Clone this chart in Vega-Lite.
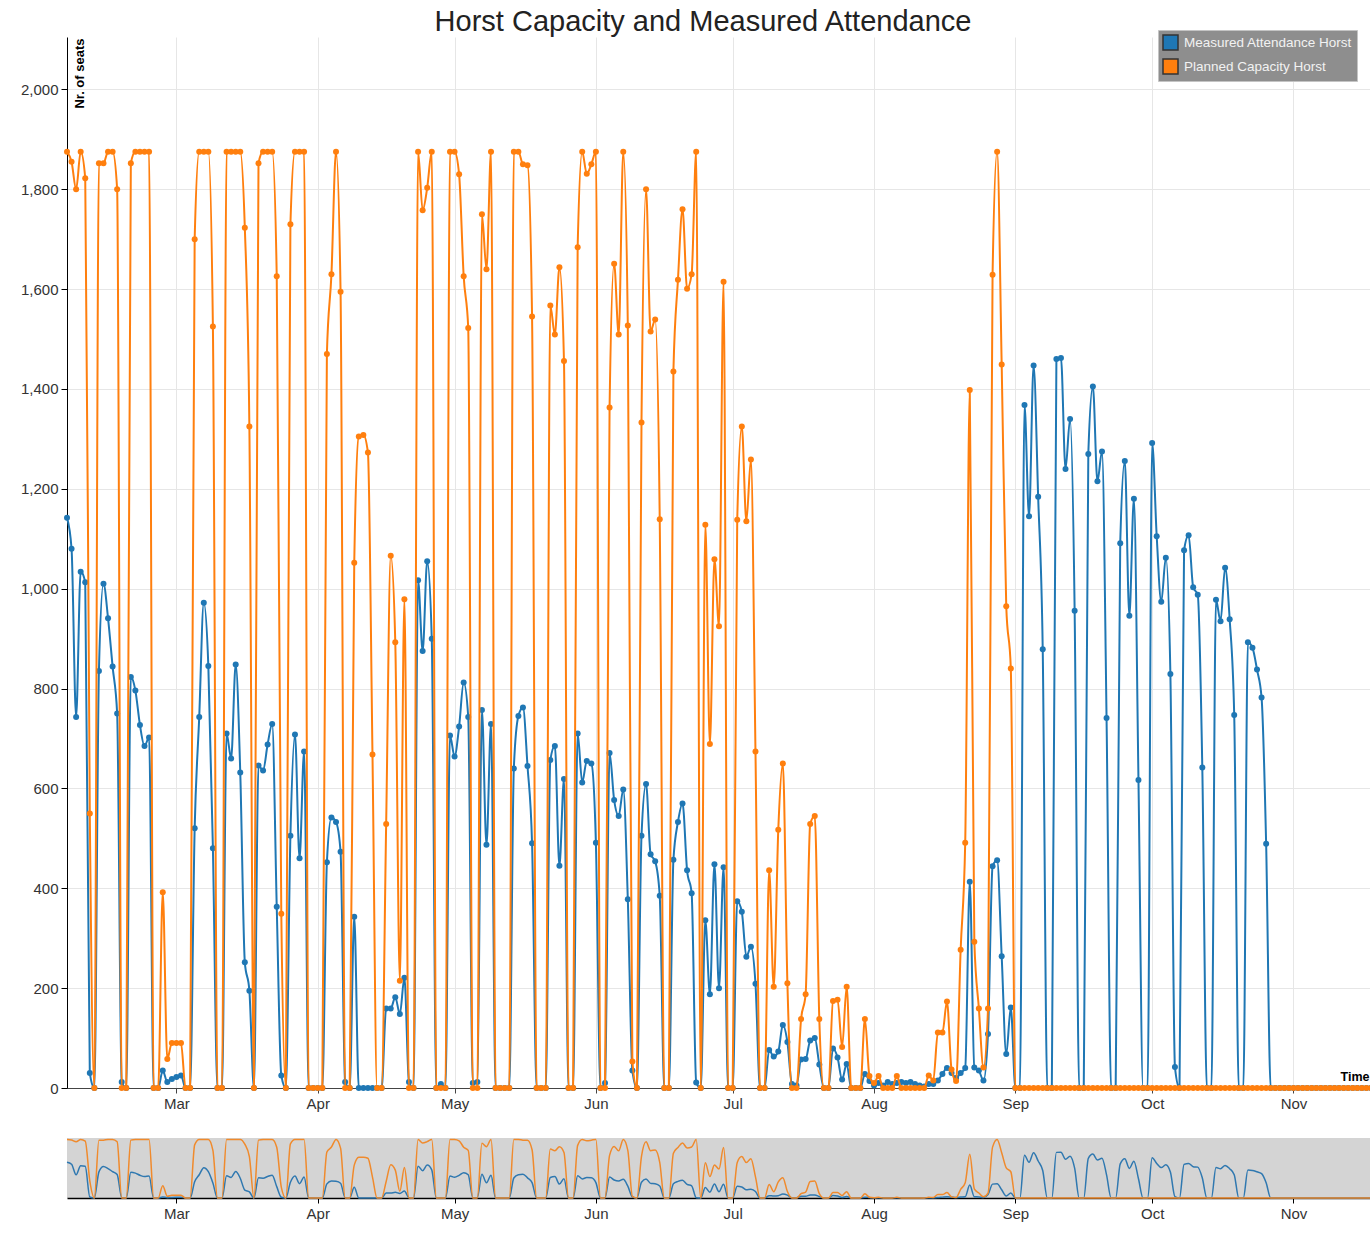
{
"$schema": "https://vega.github.io/schema/vega-lite/v6.json",
"padding": {"left": 20, "top": 7, "right": 0, "bottom": 5},
"background": "white",
"config": {"font": "Liberation Sans", "view": {"stroke": null}},
"datasets": {
"cap": [
{"t":"2018-02-05","v":1875},{"t":"2018-02-06","v":1855},{"t":"2018-02-07","v":1800},{"t":"2018-02-08","v":1875},{"t":"2018-02-09","v":1822},{"t":"2018-02-10","v":550},{"t":"2018-02-11","v":0},{"t":"2018-02-12","v":1852},{"t":"2018-02-13","v":1852},{"t":"2018-02-14","v":1875},{"t":"2018-02-15","v":1875},{"t":"2018-02-16","v":1800},{"t":"2018-02-17","v":0},{"t":"2018-02-18","v":0},{"t":"2018-02-19","v":1852},{"t":"2018-02-20","v":1875},{"t":"2018-02-21","v":1875},{"t":"2018-02-22","v":1875},{"t":"2018-02-23","v":1875},{"t":"2018-02-24","v":0},{"t":"2018-02-25","v":0},{"t":"2018-02-26","v":392},{"t":"2018-02-27","v":58},{"t":"2018-02-28","v":90},
{"t":"2018-03-01","v":90},{"t":"2018-03-02","v":90},{"t":"2018-03-03","v":0},{"t":"2018-03-04","v":0},{"t":"2018-03-05","v":1700},{"t":"2018-03-06","v":1875},{"t":"2018-03-07","v":1875},{"t":"2018-03-08","v":1875},{"t":"2018-03-09","v":1525},{"t":"2018-03-10","v":0},{"t":"2018-03-11","v":0},{"t":"2018-03-12","v":1875},{"t":"2018-03-13","v":1875},{"t":"2018-03-14","v":1875},{"t":"2018-03-15","v":1875},{"t":"2018-03-16","v":1723},{"t":"2018-03-17","v":1325},{"t":"2018-03-18","v":0},{"t":"2018-03-19","v":1852},{"t":"2018-03-20","v":1875},{"t":"2018-03-21","v":1875},{"t":"2018-03-22","v":1875},{"t":"2018-03-23","v":1626},{"t":"2018-03-24","v":349},{"t":"2018-03-25","v":0},{"t":"2018-03-26","v":1730},{"t":"2018-03-27","v":1875},{"t":"2018-03-28","v":1875},{"t":"2018-03-29","v":1875},{"t":"2018-03-30","v":0},{"t":"2018-03-31","v":0},
{"t":"2018-04-01","v":0},{"t":"2018-04-02","v":0},{"t":"2018-04-03","v":1470},{"t":"2018-04-04","v":1630},{"t":"2018-04-05","v":1875},{"t":"2018-04-06","v":1595},{"t":"2018-04-07","v":0},{"t":"2018-04-08","v":0},{"t":"2018-04-09","v":1052},{"t":"2018-04-10","v":1305},{"t":"2018-04-11","v":1308},{"t":"2018-04-12","v":1273},{"t":"2018-04-13","v":668},{"t":"2018-04-14","v":0},{"t":"2018-04-15","v":0},{"t":"2018-04-16","v":529},{"t":"2018-04-17","v":1066},{"t":"2018-04-18","v":893},{"t":"2018-04-19","v":215},{"t":"2018-04-20","v":979},{"t":"2018-04-21","v":0},{"t":"2018-04-22","v":0},{"t":"2018-04-23","v":1875},{"t":"2018-04-24","v":1758},{"t":"2018-04-25","v":1803},{"t":"2018-04-26","v":1875},{"t":"2018-04-27","v":0},{"t":"2018-04-28","v":0},{"t":"2018-04-29","v":0},{"t":"2018-04-30","v":1875},
{"t":"2018-05-01","v":1875},{"t":"2018-05-02","v":1830},{"t":"2018-05-03","v":1626},{"t":"2018-05-04","v":1522},{"t":"2018-05-05","v":0},{"t":"2018-05-06","v":0},{"t":"2018-05-07","v":1750},{"t":"2018-05-08","v":1640},{"t":"2018-05-09","v":1875},{"t":"2018-05-10","v":0},{"t":"2018-05-11","v":0},{"t":"2018-05-12","v":0},{"t":"2018-05-13","v":0},{"t":"2018-05-14","v":1875},{"t":"2018-05-15","v":1875},{"t":"2018-05-16","v":1850},{"t":"2018-05-17","v":1848},{"t":"2018-05-18","v":1545},{"t":"2018-05-19","v":0},{"t":"2018-05-20","v":0},{"t":"2018-05-21","v":0},{"t":"2018-05-22","v":1567},{"t":"2018-05-23","v":1509},{"t":"2018-05-24","v":1644},{"t":"2018-05-25","v":1456},{"t":"2018-05-26","v":0},{"t":"2018-05-27","v":0},{"t":"2018-05-28","v":1684},{"t":"2018-05-29","v":1875},{"t":"2018-05-30","v":1831},{"t":"2018-05-31","v":1850},
{"t":"2018-06-01","v":1875},{"t":"2018-06-02","v":0},{"t":"2018-06-03","v":0},{"t":"2018-06-04","v":1363},{"t":"2018-06-05","v":1651},{"t":"2018-06-06","v":1509},{"t":"2018-06-07","v":1875},{"t":"2018-06-08","v":1527},{"t":"2018-06-09","v":53},{"t":"2018-06-10","v":0},{"t":"2018-06-11","v":1333},{"t":"2018-06-12","v":1800},{"t":"2018-06-13","v":1515},{"t":"2018-06-14","v":1539},{"t":"2018-06-15","v":1139},{"t":"2018-06-16","v":0},{"t":"2018-06-17","v":0},{"t":"2018-06-18","v":1435},{"t":"2018-06-19","v":1619},{"t":"2018-06-20","v":1760},{"t":"2018-06-21","v":1601},{"t":"2018-06-22","v":1630},{"t":"2018-06-23","v":1875},{"t":"2018-06-24","v":0},{"t":"2018-06-25","v":1128},{"t":"2018-06-26","v":689},{"t":"2018-06-27","v":1059},{"t":"2018-06-28","v":925},{"t":"2018-06-29","v":1615},{"t":"2018-06-30","v":0},
{"t":"2018-07-01","v":0},{"t":"2018-07-02","v":1138},{"t":"2018-07-03","v":1325},{"t":"2018-07-04","v":1135},{"t":"2018-07-05","v":1259},{"t":"2018-07-06","v":674},{"t":"2018-07-07","v":0},{"t":"2018-07-08","v":0},{"t":"2018-07-09","v":436},{"t":"2018-07-10","v":203},{"t":"2018-07-11","v":517},{"t":"2018-07-12","v":650},{"t":"2018-07-13","v":210},{"t":"2018-07-14","v":0},{"t":"2018-07-15","v":0},{"t":"2018-07-16","v":138},{"t":"2018-07-17","v":188},{"t":"2018-07-18","v":529},{"t":"2018-07-19","v":545},{"t":"2018-07-20","v":138},{"t":"2018-07-21","v":0},{"t":"2018-07-22","v":0},{"t":"2018-07-23","v":174},{"t":"2018-07-24","v":177},{"t":"2018-07-25","v":82},{"t":"2018-07-26","v":203},{"t":"2018-07-27","v":0},{"t":"2018-07-28","v":0},{"t":"2018-07-29","v":0},{"t":"2018-07-30","v":138},{"t":"2018-07-31","v":24},
{"t":"2018-08-01","v":10},{"t":"2018-08-02","v":24},{"t":"2018-08-03","v":0},{"t":"2018-08-04","v":0},{"t":"2018-08-05","v":0},{"t":"2018-08-06","v":24},{"t":"2018-08-07","v":0},{"t":"2018-08-08","v":0},{"t":"2018-08-09","v":0},{"t":"2018-08-10","v":0},{"t":"2018-08-11","v":0},{"t":"2018-08-12","v":0},{"t":"2018-08-13","v":25},{"t":"2018-08-14","v":15},{"t":"2018-08-15","v":111},{"t":"2018-08-16","v":111},{"t":"2018-08-17","v":173},{"t":"2018-08-18","v":37},{"t":"2018-08-19","v":14},{"t":"2018-08-20","v":277},{"t":"2018-08-21","v":491},{"t":"2018-08-22","v":1398},{"t":"2018-08-23","v":293},{"t":"2018-08-24","v":159},{"t":"2018-08-25","v":41},{"t":"2018-08-26","v":159},{"t":"2018-08-27","v":1629},{"t":"2018-08-28","v":1875},{"t":"2018-08-29","v":1449},{"t":"2018-08-30","v":965},{"t":"2018-08-31","v":840},
{"t":"2018-09-01","v":0},{"t":"2018-09-02","v":0},{"t":"2018-09-03","v":0},{"t":"2018-09-04","v":0},{"t":"2018-09-05","v":0},{"t":"2018-09-06","v":0},{"t":"2018-09-07","v":0},{"t":"2018-09-08","v":0},{"t":"2018-09-09","v":0},{"t":"2018-09-10","v":0},{"t":"2018-09-11","v":0},{"t":"2018-09-12","v":0},{"t":"2018-09-13","v":0},{"t":"2018-09-14","v":0},{"t":"2018-09-15","v":0},{"t":"2018-09-16","v":0},{"t":"2018-09-17","v":0},{"t":"2018-09-18","v":0},{"t":"2018-09-19","v":0},{"t":"2018-09-20","v":0},{"t":"2018-09-21","v":0},{"t":"2018-09-22","v":0},{"t":"2018-09-23","v":0},{"t":"2018-09-24","v":0},{"t":"2018-09-25","v":0},{"t":"2018-09-26","v":0},{"t":"2018-09-27","v":0},{"t":"2018-09-28","v":0},{"t":"2018-09-29","v":0},{"t":"2018-09-30","v":0},
{"t":"2018-10-01","v":0},{"t":"2018-10-02","v":0},{"t":"2018-10-03","v":0},{"t":"2018-10-04","v":0},{"t":"2018-10-05","v":0},{"t":"2018-10-06","v":0},{"t":"2018-10-07","v":0},{"t":"2018-10-08","v":0},{"t":"2018-10-09","v":0},{"t":"2018-10-10","v":0},{"t":"2018-10-11","v":0},{"t":"2018-10-12","v":0},{"t":"2018-10-13","v":0},{"t":"2018-10-14","v":0},{"t":"2018-10-15","v":0},{"t":"2018-10-16","v":0},{"t":"2018-10-17","v":0},{"t":"2018-10-18","v":0},{"t":"2018-10-19","v":0},{"t":"2018-10-20","v":0},{"t":"2018-10-21","v":0},{"t":"2018-10-22","v":0},{"t":"2018-10-23","v":0},{"t":"2018-10-24","v":0},{"t":"2018-10-25","v":0},{"t":"2018-10-26","v":0},{"t":"2018-10-27","v":0},{"t":"2018-10-28","v":0},{"t":"2018-10-29","v":0},{"t":"2018-10-30","v":0},{"t":"2018-10-31","v":0},
{"t":"2018-11-01","v":0},{"t":"2018-11-02","v":0},{"t":"2018-11-03","v":0},{"t":"2018-11-04","v":0},{"t":"2018-11-05","v":0},{"t":"2018-11-06","v":0},{"t":"2018-11-07","v":0},{"t":"2018-11-08","v":0},{"t":"2018-11-09","v":0},{"t":"2018-11-10","v":0},{"t":"2018-11-11","v":0},{"t":"2018-11-12","v":0},{"t":"2018-11-13","v":0},{"t":"2018-11-14","v":0},{"t":"2018-11-15","v":0},{"t":"2018-11-16","v":0},{"t":"2018-11-17","v":0},{"t":"2018-11-18","v":0}
],
"att": [
{"t":"2018-02-05","v":1142},{"t":"2018-02-06","v":1080},{"t":"2018-02-07","v":743},{"t":"2018-02-08","v":1034},{"t":"2018-02-09","v":1013},{"t":"2018-02-10","v":30},{"t":"2018-02-11","v":0},{"t":"2018-02-12","v":835},{"t":"2018-02-13","v":1010},{"t":"2018-02-14","v":941},{"t":"2018-02-15","v":844},{"t":"2018-02-16","v":750},{"t":"2018-02-17","v":12},{"t":"2018-02-18","v":0},{"t":"2018-02-19","v":823},{"t":"2018-02-20","v":796},{"t":"2018-02-21","v":727},{"t":"2018-02-22","v":685},{"t":"2018-02-23","v":702},{"t":"2018-02-24","v":0},{"t":"2018-02-25","v":0},{"t":"2018-02-26","v":35},{"t":"2018-02-27","v":12},{"t":"2018-02-28","v":18},
{"t":"2018-03-01","v":22},{"t":"2018-03-02","v":25},{"t":"2018-03-03","v":0},{"t":"2018-03-04","v":0},{"t":"2018-03-05","v":520},{"t":"2018-03-06","v":743},{"t":"2018-03-07","v":972},{"t":"2018-03-08","v":845},{"t":"2018-03-09","v":480},{"t":"2018-03-10","v":0},{"t":"2018-03-11","v":0},{"t":"2018-03-12","v":710},{"t":"2018-03-13","v":660},{"t":"2018-03-14","v":848},{"t":"2018-03-15","v":632},{"t":"2018-03-16","v":252},{"t":"2018-03-17","v":195},{"t":"2018-03-18","v":0},{"t":"2018-03-19","v":646},{"t":"2018-03-20","v":636},{"t":"2018-03-21","v":688},{"t":"2018-03-22","v":729},{"t":"2018-03-23","v":363},{"t":"2018-03-24","v":25},{"t":"2018-03-25","v":0},{"t":"2018-03-26","v":505},{"t":"2018-03-27","v":708},{"t":"2018-03-28","v":460},{"t":"2018-03-29","v":674},{"t":"2018-03-30","v":0},{"t":"2018-03-31","v":0},
{"t":"2018-04-01","v":0},{"t":"2018-04-02","v":0},{"t":"2018-04-03","v":452},{"t":"2018-04-04","v":542},{"t":"2018-04-05","v":533},{"t":"2018-04-06","v":473},{"t":"2018-04-07","v":12},{"t":"2018-04-08","v":0},{"t":"2018-04-09","v":343},{"t":"2018-04-10","v":0},{"t":"2018-04-11","v":0},{"t":"2018-04-12","v":0},{"t":"2018-04-13","v":0},{"t":"2018-04-14","v":0},{"t":"2018-04-15","v":0},{"t":"2018-04-16","v":159},{"t":"2018-04-17","v":159},{"t":"2018-04-18","v":182},{"t":"2018-04-19","v":148},{"t":"2018-04-20","v":221},{"t":"2018-04-21","v":12},{"t":"2018-04-22","v":0},{"t":"2018-04-23","v":1017},{"t":"2018-04-24","v":875},{"t":"2018-04-25","v":1055},{"t":"2018-04-26","v":900},{"t":"2018-04-27","v":0},{"t":"2018-04-28","v":8},{"t":"2018-04-29","v":0},{"t":"2018-04-30","v":706},
{"t":"2018-05-01","v":664},{"t":"2018-05-02","v":724},{"t":"2018-05-03","v":812},{"t":"2018-05-04","v":743},{"t":"2018-05-05","v":10},{"t":"2018-05-06","v":12},{"t":"2018-05-07","v":757},{"t":"2018-05-08","v":487},{"t":"2018-05-09","v":729},{"t":"2018-05-10","v":0},{"t":"2018-05-11","v":0},{"t":"2018-05-12","v":0},{"t":"2018-05-13","v":0},{"t":"2018-05-14","v":640},{"t":"2018-05-15","v":745},{"t":"2018-05-16","v":762},{"t":"2018-05-17","v":645},{"t":"2018-05-18","v":490},{"t":"2018-05-19","v":0},{"t":"2018-05-20","v":0},{"t":"2018-05-21","v":0},{"t":"2018-05-22","v":657},{"t":"2018-05-23","v":685},{"t":"2018-05-24","v":445},{"t":"2018-05-25","v":619},{"t":"2018-05-26","v":0},{"t":"2018-05-27","v":0},{"t":"2018-05-28","v":710},{"t":"2018-05-29","v":612},{"t":"2018-05-30","v":655},{"t":"2018-05-31","v":650},
{"t":"2018-06-01","v":491},{"t":"2018-06-02","v":0},{"t":"2018-06-03","v":10},{"t":"2018-06-04","v":671},{"t":"2018-06-05","v":577},{"t":"2018-06-06","v":545},{"t":"2018-06-07","v":598},{"t":"2018-06-08","v":378},{"t":"2018-06-09","v":35},{"t":"2018-06-10","v":0},{"t":"2018-06-11","v":505},{"t":"2018-06-12","v":609},{"t":"2018-06-13","v":468},{"t":"2018-06-14","v":454},{"t":"2018-06-15","v":385},{"t":"2018-06-16","v":0},{"t":"2018-06-17","v":0},{"t":"2018-06-18","v":457},{"t":"2018-06-19","v":533},{"t":"2018-06-20","v":570},{"t":"2018-06-21","v":436},{"t":"2018-06-22","v":390},{"t":"2018-06-23","v":11},{"t":"2018-06-24","v":0},{"t":"2018-06-25","v":336},{"t":"2018-06-26","v":188},{"t":"2018-06-27","v":448},{"t":"2018-06-28","v":200},{"t":"2018-06-29","v":442},{"t":"2018-06-30","v":0},
{"t":"2018-07-01","v":0},{"t":"2018-07-02","v":374},{"t":"2018-07-03","v":353},{"t":"2018-07-04","v":263},{"t":"2018-07-05","v":283},{"t":"2018-07-06","v":209},{"t":"2018-07-07","v":0},{"t":"2018-07-08","v":0},{"t":"2018-07-09","v":76},{"t":"2018-07-10","v":63},{"t":"2018-07-11","v":73},{"t":"2018-07-12","v":126},{"t":"2018-07-13","v":92},{"t":"2018-07-14","v":8},{"t":"2018-07-15","v":5},{"t":"2018-07-16","v":57},{"t":"2018-07-17","v":58},{"t":"2018-07-18","v":95},{"t":"2018-07-19","v":100},{"t":"2018-07-20","v":47},{"t":"2018-07-21","v":0},{"t":"2018-07-22","v":0},{"t":"2018-07-23","v":79},{"t":"2018-07-24","v":61},{"t":"2018-07-25","v":17},{"t":"2018-07-26","v":48},{"t":"2018-07-27","v":0},{"t":"2018-07-28","v":0},{"t":"2018-07-29","v":0},{"t":"2018-07-30","v":28},{"t":"2018-07-31","v":14},
{"t":"2018-08-01","v":5},{"t":"2018-08-02","v":10},{"t":"2018-08-03","v":5},{"t":"2018-08-04","v":12},{"t":"2018-08-05","v":8},{"t":"2018-08-06","v":10},{"t":"2018-08-07","v":12},{"t":"2018-08-08","v":10},{"t":"2018-08-09","v":12},{"t":"2018-08-10","v":8},{"t":"2018-08-11","v":5},{"t":"2018-08-12","v":3},{"t":"2018-08-13","v":8},{"t":"2018-08-14","v":8},{"t":"2018-08-15","v":15},{"t":"2018-08-16","v":28},{"t":"2018-08-17","v":40},{"t":"2018-08-18","v":30},{"t":"2018-08-19","v":20},{"t":"2018-08-20","v":30},{"t":"2018-08-21","v":40},{"t":"2018-08-22","v":413},{"t":"2018-08-23","v":41},{"t":"2018-08-24","v":35},{"t":"2018-08-25","v":15},{"t":"2018-08-26","v":108},{"t":"2018-08-27","v":444},{"t":"2018-08-28","v":456},{"t":"2018-08-29","v":264},{"t":"2018-08-30","v":68},{"t":"2018-08-31","v":161},
{"t":"2018-09-01","v":0},{"t":"2018-09-02","v":0},{"t":"2018-09-03","v":1368},{"t":"2018-09-04","v":1145},{"t":"2018-09-05","v":1447},{"t":"2018-09-06","v":1184},{"t":"2018-09-07","v":879},{"t":"2018-09-08","v":0},{"t":"2018-09-09","v":0},{"t":"2018-09-10","v":1460},{"t":"2018-09-11","v":1462},{"t":"2018-09-12","v":1240},{"t":"2018-09-13","v":1340},{"t":"2018-09-14","v":956},{"t":"2018-09-15","v":0},{"t":"2018-09-16","v":0},{"t":"2018-09-17","v":1270},{"t":"2018-09-18","v":1405},{"t":"2018-09-19","v":1215},{"t":"2018-09-20","v":1275},{"t":"2018-09-21","v":741},{"t":"2018-09-22","v":0},{"t":"2018-09-23","v":0},{"t":"2018-09-24","v":1091},{"t":"2018-09-25","v":1256},{"t":"2018-09-26","v":946},{"t":"2018-09-27","v":1180},{"t":"2018-09-28","v":617},{"t":"2018-09-29","v":0},{"t":"2018-09-30","v":0},
{"t":"2018-10-01","v":1292},{"t":"2018-10-02","v":1105},{"t":"2018-10-03","v":974},{"t":"2018-10-04","v":1062},{"t":"2018-10-05","v":829},{"t":"2018-10-06","v":42},{"t":"2018-10-07","v":0},{"t":"2018-10-08","v":1077},{"t":"2018-10-09","v":1107},{"t":"2018-10-10","v":1003},{"t":"2018-10-11","v":988},{"t":"2018-10-12","v":642},{"t":"2018-10-13","v":0},{"t":"2018-10-14","v":0},{"t":"2018-10-15","v":978},{"t":"2018-10-16","v":935},{"t":"2018-10-17","v":1042},{"t":"2018-10-18","v":939},{"t":"2018-10-19","v":747},{"t":"2018-10-20","v":0},{"t":"2018-10-21","v":0},{"t":"2018-10-22","v":893},{"t":"2018-10-23","v":882},{"t":"2018-10-24","v":838},{"t":"2018-10-25","v":782},{"t":"2018-10-26","v":489},{"t":"2018-10-27","v":0},{"t":"2018-10-28","v":0},{"t":"2018-10-29","v":0},{"t":"2018-10-30","v":0},{"t":"2018-10-31","v":0},
{"t":"2018-11-01","v":0},{"t":"2018-11-02","v":0},{"t":"2018-11-03","v":0},{"t":"2018-11-04","v":0},{"t":"2018-11-05","v":0},{"t":"2018-11-06","v":0},{"t":"2018-11-07","v":0},{"t":"2018-11-08","v":0},{"t":"2018-11-09","v":0},{"t":"2018-11-10","v":0},{"t":"2018-11-11","v":0},{"t":"2018-11-12","v":0},{"t":"2018-11-13","v":0},{"t":"2018-11-14","v":0},{"t":"2018-11-15","v":0},{"t":"2018-11-16","v":0},{"t":"2018-11-17","v":0},{"t":"2018-11-18","v":0}
]
},
"spacing": 25,
"resolve": {"scale": {"color": "independent"}},
"vconcat": [
{
"width": 1304,
"height": 1051,
"title": {"text": "Horst Capacity and Measured Attendance", "fontSize": 29, "fontWeight": "normal", "color": "#222", "anchor": "middle", "frame": "group", "dx": -16, "offset": -7},
"encoding": {
"x": {"field": "t", "type": "temporal",
"scale": {"type": "utc", "domain": [{"year": 2018, "month": 2, "date": 5, "utc": true}, {"year": 2018, "month": 11, "date": 18, "utc": true}]},
"axis": {"title": "Time", "titleX": 1302, "titleY": -5, "titleAlign": "right", "titleBaseline": "bottom", "titleFontSize": 12.5, "titleFontWeight": "bold", "titleColor": "#000",
"format": "%b", "tickCount": {"interval": "month", "step": 1}, "labelFontSize": 15, "labelColor": "#333", "labelPadding": 3, "labelFlush": false,
"domainColor": "#444", "tickColor": "#444", "tickSize": 5, "grid": true, "gridColor": "#e6e6e6"}},
"y": {"field": "v", "type": "quantitative",
"scale": {"domain": [0, 2105], "nice": false},
"axis": {"title": "Nr. of seats", "titleX": 19, "titleY": 1, "titleAngle": 270, "titleAlign": "right", "titleBaseline": "bottom", "titleFontSize": 13, "titleFontWeight": "bold", "titleColor": "#000",
"values": [0, 200, 400, 600, 800, 1000, 1200, 1400, 1600, 1800, 2000], "format": ",d", "labelFontSize": 15, "labelColor": "#333", "labelPadding": 3,
"domainColor": "#000", "tickColor": "#000", "tickSize": 6, "grid": true, "gridColor": "#e6e6e6"}}
},
"layer": [
{"data": {"name": "att"}, "mark": {"type": "line", "interpolate": "monotone", "strokeWidth": 2, "color": "#1f77b4"}, "encoding": {}},
{"data": {"name": "att"}, "mark": {"type": "point", "filled": true, "size": 36, "opacity": 1},
"encoding": {"color": {"datum": "Measured Attendance Horst", "type": "nominal",
"scale": {"domain": ["Measured Attendance Horst", "Planned Capacity Horst"], "range": ["#1f77b4", "#ff7f0e"]},
"legend": {"orient": "none", "legendX": 1091, "legendY": -7, "title": null, "fillColor": "#8e8e8e", "strokeColor": "#c4c4c4", "padding": 4,
"labelColor": "#f2f2f2", "labelFontSize": 13.5, "labelLimit": 300, "labelOffset": 5,
"symbolType": "square", "symbolSize": 225, "symbolStrokeColor": "#333", "symbolStrokeWidth": 1.5, "rowPadding": 3,
"encode": {"symbols": {"update": {"stroke": {"value": "#333"}, "strokeWidth": {"value": 1.5}}}}}}}},
{"data": {"name": "cap"}, "mark": {"type": "line", "interpolate": "monotone", "strokeWidth": 2, "color": "#ff7f0e"}, "encoding": {}},
{"data": {"name": "cap"}, "mark": {"type": "point", "filled": true, "size": 36, "opacity": 1},
"encoding": {"color": {"datum": "Planned Capacity Horst", "type": "nominal"}}}
]
},
{
"width": 1304,
"height": 60,
"view": {"fill": "#d4d4d4", "stroke": null},
"encoding": {
"x": {"field": "t", "type": "temporal",
"scale": {"type": "utc", "domain": [{"year": 2018, "month": 2, "date": 5, "utc": true}, {"year": 2018, "month": 11, "date": 18, "utc": true}]},
"axis": {"title": null, "format": "%b", "tickCount": {"interval": "month", "step": 1}, "labelFontSize": 15, "labelColor": "#333", "labelPadding": 3, "labelFlush": false,
"domainColor": "#000", "domainWidth": 1.5, "tickColor": "#000", "tickSize": 5, "grid": false}},
"y": {"field": "v", "type": "quantitative", "scale": {"domain": [0, 1920], "nice": false}, "axis": null}
},
"layer": [
{"data": {"name": "att"}, "mark": {"type": "line", "interpolate": "monotone", "strokeWidth": 1.5, "color": "#2f78b0"}, "encoding": {}},
{"data": {"name": "cap"}, "mark": {"type": "line", "interpolate": "monotone", "strokeWidth": 1.5, "color": "#f08a2c"}, "encoding": {}}
]
}
]
}
